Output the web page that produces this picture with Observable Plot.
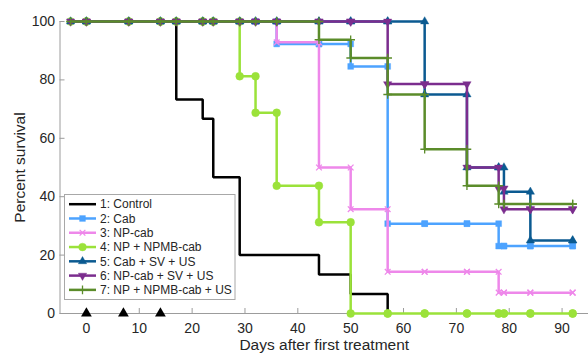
<!DOCTYPE html>
<html>
<head>
<meta charset="utf-8">
<script src="https://cdn.jsdelivr.net/npm/d3@7"></script>
<script src="https://cdn.jsdelivr.net/npm/@observablehq/plot@0.6"></script>
<style>
  html, body { margin: 0; padding: 0; background: #fff; }
  #chart { width: 588px; height: 354px; }
</style>
</head>
<body>
<div id="chart"></div>
<script>
// ---- Data ----
const days = [-3, 0, 8, 14, 17, 22, 24, 29, 32, 36, 44, 50, 57, 64, 72, 78, 79, 84, 92];
const seriesNames = ["1: Control", "2: Cab", "3: NP-cab", "4: NP + NPMB-cab", "5: Cab + SV + US", "6: NP-cab + SV + US", "7: NP + NPMB-cab + US"];
const control     = [100, 100, 100, 100, 73.33, 66.67, 46.67, 20, 20, 20, 13.33, 6.67, 0];
const cab         = [100, 100, 100, 100, 100, 100, 100, 100, 100, 92.31, 92.31, 84.62, 30.77, 30.77, 30.77, 23.08, 23.08, 23.08, 23.08];
const npCab       = [100, 100, 100, 100, 100, 100, 100, 100, 100, 92.86, 50, 35.71, 14.29, 14.29, 14.29, 7.14, 7.14, 7.14, 7.14];
const npNpmbCab   = [100, 100, 100, 100, 100, 100, 100, 81.25, 68.75, 43.75, 31.25, 0, 0, 0, 0, 0, 0, 0, 0];
const cabSvUs     = [100, 100, 100, 100, 100, 100, 100, 100, 100, 100, 100, 100, 100, 75, 50, 50, 41.67, 25, 25];
const npCabSvUs   = [100, 100, 100, 100, 100, 100, 100, 100, 100, 100, 100, 100, 78.57, 78.57, 50, 42.86, 35.71, 35.71, 35.71];
const npNpmbCabUs = [100, 100, 100, 100, 100, 100, 100, 100, 100, 100, 93.75, 87.5, 75, 56.25, 43.75, 37.5, 37.5, 37.5, 37.5];
const treatmentDays = [0, 7, 14];
const xTicks = [0, 10, 20, 30, 40, 50, 60, 70, 80, 90];
const yTicks = [0, 20, 40, 60, 80, 100];

// ---- Styles ----
const FONT = "'Liberation Sans', Arial, Helvetica, sans-serif";
const AXIS = "#9c9c9c";
const TEXT = "#262626";
const triangleDown = {
  draw(context, size) {
    const y = Math.sqrt(size / (Math.sqrt(3) * 3));
    context.moveTo(0, y * 2);
    context.lineTo(-Math.sqrt(3) * y, -y);
    context.lineTo(Math.sqrt(3) * y, -y);
    context.closePath();
  }
};
const styles = [
  {color: "#000000", symbol: null},
  {color: "#4da3ff", symbol: d3.symbolSquare, r: 3.3, filled: true},
  {color: "#ee88ea", symbol: d3.symbolTimes, r: 2.7, filled: false},
  {color: "#9be23a", symbol: d3.symbolCircle, r: 3.9, filled: true},
  {color: "#0b5a91", symbol: d3.symbolTriangle, r: 3.1, filled: true},
  {color: "#7b2d8e", symbol: triangleDown, r: 3.1, filled: true},
  {color: "#5b8c2a", symbol: d3.symbolPlus, r: 2.9, filled: false}
];
const seriesValues = [control, cab, npCab, npNpmbCab, cabSvUs, npCabSvUs, npNpmbCabUs];

// Kaplan–Meier stair points (both corners of every step)
function stairs(vals) {
  const pts = [{x: days[0], y: vals[0]}];
  for (let i = 1; i < vals.length; i++) {
    pts.push({x: days[i], y: vals[i - 1]}, {x: days[i], y: vals[i]});
  }
  return pts;
}

const seriesMarks = [];
seriesValues.forEach((vals, i) => {
  const st = styles[i];
  const pts = stairs(vals);
  seriesMarks.push(Plot.line(pts, {x: "x", y: "y", stroke: st.color, strokeWidth: 2.5, strokeLinejoin: "miter", strokeLinecap: "butt"}));
  if (st.symbol) {
    seriesMarks.push(Plot.dot(pts, st.filled
      ? {x: "x", y: "y", symbol: st.symbol, r: st.r, fill: st.color, stroke: st.color, strokeWidth: 0.4}
      : {x: "x", y: "y", symbol: st.symbol, r: st.r, fill: "none", stroke: st.color, strokeWidth: 1.3}));
  }
});

const plot = Plot.plot({
  width: 588,
  height: 354,
  marginLeft: 59.5,
  marginRight: 0,
  marginTop: 21,
  marginBottom: 41,
  x: {domain: [-5, 95]},
  y: {domain: [0, 100]},
  style: {fontFamily: FONT, fontSize: "14px", background: "white", overflow: "visible"},
  marks: [
    Plot.ruleY([0], {stroke: AXIS, strokeWidth: 1}),
    Plot.ruleX([-5], {y1: 0, y2: 100, stroke: AXIS, strokeWidth: 1}),
    Plot.axisX(xTicks, {tickSize: -5, fill: "none", stroke: AXIS}),
    Plot.axisY(yTicks, {tickSize: -5, fill: "none", stroke: AXIS}),
    Plot.axisX(xTicks, {tickSize: 0, tickPadding: 10, fill: TEXT, fontSize: 14, label: null}),
    Plot.axisY(yTicks, {tickSize: 0, tickPadding: 5, fill: TEXT, fontSize: 14, label: null}),
    Plot.axisX([], {tickSize: 0, fill: TEXT, fontSize: 15.5, label: "Days after first treatment", labelAnchor: "center", labelOffset: 36, labelArrow: "none"}),
    Plot.axisY([], {tickSize: 0, fill: TEXT, fontSize: 15.5, label: "Percent survival", labelAnchor: "center", labelOffset: 46.5, labelArrow: "none"}),
    ...seriesMarks,
    Plot.dot(treatmentDays, {x: d => d, y: () => 0, symbol: "triangle", r: 4, fill: "black"})
  ]
});

document.getElementById("chart").appendChild(plot);

// ---- Legend (overlay inside the axes, like the original) ----
const svg = d3.select(plot);
const lg = svg.append("g")
  .attr("font-family", FONT).attr("font-size", 12).attr("fill", TEXT)
  .attr("text-anchor", "start").style("text-anchor", "start");
lg.append("rect")
  .attr("x", 64.5).attr("y", 194.5).attr("width", 170.5).attr("height", 105)
  .attr("fill", "white").attr("stroke", "#a8a8a8").attr("stroke-width", 1);
seriesNames.forEach((name, i) => {
  const st = styles[i];
  const y = 204.2 + i * 14.28;
  lg.append("line").attr("x1", 69).attr("x2", 96).attr("y1", y).attr("y2", y)
    .attr("stroke", st.color).attr("stroke-width", 2.5);
  if (st.symbol) {
    const p = d3.symbol().type(st.symbol).size(Math.PI * st.r * st.r)();
    lg.append("path").attr("d", p).attr("transform", `translate(82.5,${y})`)
      .attr("fill", st.filled ? st.color : "none")
      .attr("stroke", st.color).attr("stroke-width", st.filled ? 0.4 : 1.3);
  }
  lg.append("text").attr("x", 100).attr("y", y).attr("dy", "0.35em")
    .attr("text-anchor", "start").style("text-anchor", "start").text(name);
});
</script>
</body>
</html>
